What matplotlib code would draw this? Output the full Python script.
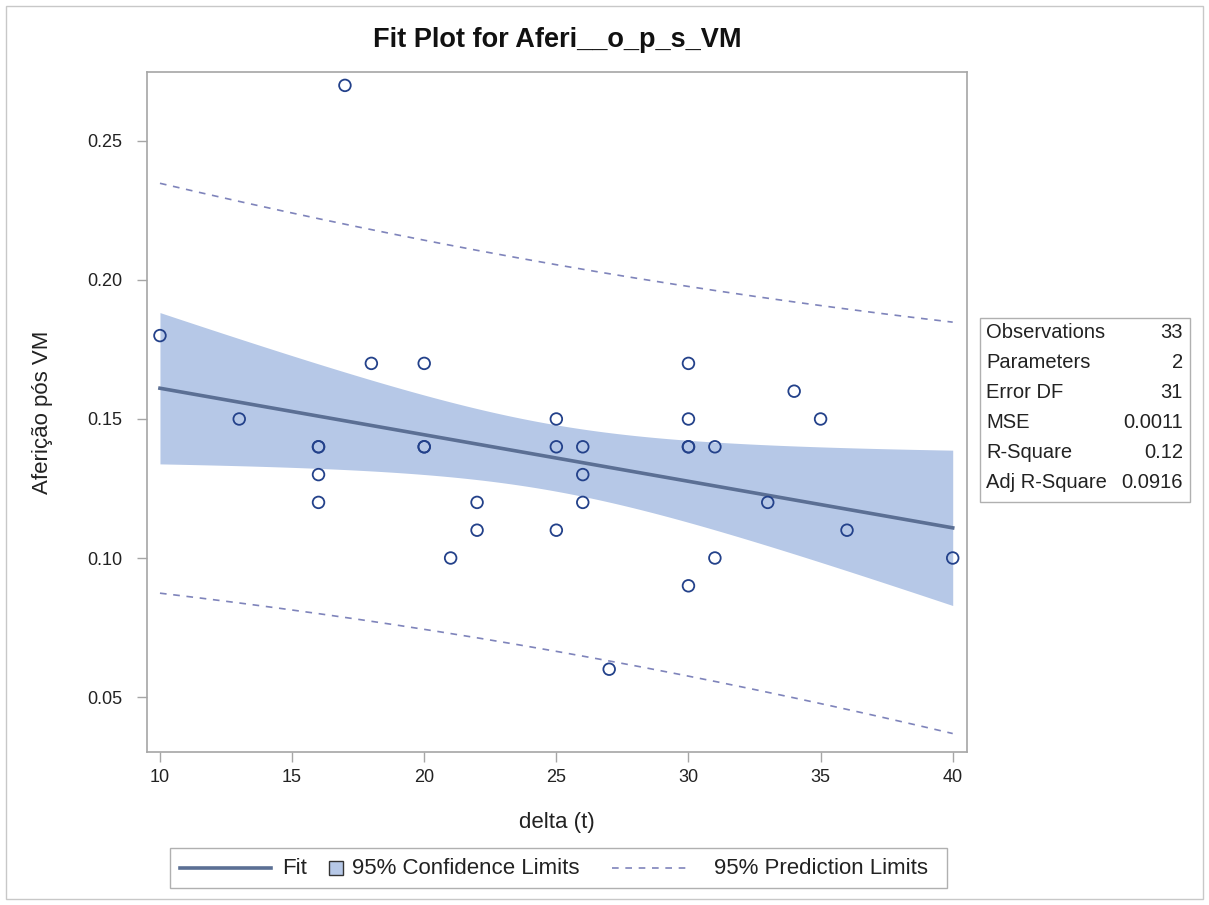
import numpy as np
import matplotlib
matplotlib.use('Agg')
import matplotlib.pyplot as plt
from matplotlib.patches import Rectangle
from matplotlib.lines import Line2D

plt.rcParams['font.family'] = ['Liberation Sans', 'DejaVu Sans']

# dados
delta_t = [10, 13, 16, 16, 16, 16, 17, 18, 20, 20, 20, 21, 22, 22, 25, 25, 25,
           26, 26, 26, 27, 30, 30, 30, 30, 30, 31, 31, 33, 34, 35, 36, 40]
afericao = [0.18, 0.15, 0.14, 0.14, 0.13, 0.12, 0.27, 0.17, 0.17, 0.14, 0.14, 0.10,
            0.12, 0.11, 0.15, 0.14, 0.11, 0.14, 0.13, 0.12, 0.06, 0.17, 0.15,
            0.14, 0.14, 0.09, 0.14, 0.10, 0.12, 0.16, 0.15, 0.11, 0.10]

stat_names = ['Observations', 'Parameters', 'Error DF', 'MSE', 'R-Square', 'Adj R-Square']
stat_values = ['33', '2', '31', '0.0011', '0.12', '0.0916']

legend_labels = ['Fit', '95% Confidence Limits', '95% Prediction Limits']

x = np.array(delta_t, dtype=float)
y = np.array(afericao, dtype=float)
n = len(x)

# regressão linear simples
b1, b0 = np.polyfit(x, y, 1)
resid = y - (b0 + b1 * x)
mse = np.sum(resid ** 2) / (n - 2)
sxx = np.sum((x - x.mean()) ** 2)
t_crit = 2.0395  # t(0.975, 31)

xg = np.linspace(x.min(), x.max(), 200)
yg = b0 + b1 * xg
se_mean = np.sqrt(mse * (1 / n + (xg - x.mean()) ** 2 / sxx))
se_pred = np.sqrt(mse * (1 + 1 / n + (xg - x.mean()) ** 2 / sxx))

W, H = 1209, 905
def fx(px):
    return px / W
def fy(py):
    return 1 - py / H

fig = plt.figure(figsize=(12.09, 9.05), dpi=100)
ax = fig.add_axes([0.1216, 0.169, 0.678, 0.7514])

band_col = '#b6c8e7'
fit_col = '#5b6f94'
pi_col = '#7f84bb'
pt_col = '#23418a'
txt_col = '#222222'

ax.fill_between(xg, yg - t_crit * se_mean, yg + t_crit * se_mean, color=band_col, lw=0, zorder=1)
ax.plot(xg, yg, color=fit_col, lw=2.6, zorder=2)
ax.plot(xg, yg - t_crit * se_pred, color=pi_col, lw=1.2, ls=(0, (4, 4)), zorder=2)
ax.plot(xg, yg + t_crit * se_pred, color=pi_col, lw=1.2, ls=(0, (4, 4)), zorder=2)
ax.scatter(x, y, s=70, facecolors='none', edgecolors=pt_col, linewidths=1.3, zorder=3)

ax.set_xlim(9.51, 40.53)
ax.set_ylim(0.0302, 0.2748)
ax.set_xticks([10, 15, 20, 25, 30, 35, 40])
ax.set_yticks([0.05, 0.10, 0.15, 0.20, 0.25])
ax.set_yticklabels(['0.05', '0.10', '0.15', '0.20', '0.25'])
for s in ax.spines.values():
    s.set_color('#a6a6a6')
    s.set_linewidth(1.2)
ax.tick_params(direction='out', length=7, width=1, color='#a6a6a6',
               labelsize=13, labelcolor=txt_col, pad=5)
ax.tick_params(axis='y', pad=11)
ax.set_xlabel('delta (t)', fontsize=16, color=txt_col, va='center')
ax.xaxis.set_label_coords(0.5, (752 - 822) / 680)
ax.set_ylabel('Aferição pós VM', fontsize=16, color=txt_col, va='center')
ax.yaxis.set_label_coords((42 - 147) / 820, 0.5)
fig.text(fx(557), fy(40), 'Fit Plot for Aferi__o_p_s_VM', fontsize=19.5, fontweight='bold',
         ha='center', va='center', color='#111111')

# tabela de estatísticas
fig.patches.append(Rectangle((fx(980), fy(502)), fx(1190) - fx(980), fy(318) - fy(502),
                             transform=fig.transFigure, fill=False, ec='#b0b0b0', lw=1))
for i, (nm, val) in enumerate(zip(stat_names, stat_values)):
    yy = 332 + i * 30
    fig.text(fx(986), fy(yy), nm, fontsize=14.5, va='center', ha='left', color=txt_col)
    fig.text(fx(1183), fy(yy), val, fontsize=14.5, va='center', ha='right', color=txt_col)

# legenda (desenhada à mão)
ly = 868
fig.patches.append(Rectangle((fx(170), fy(888)), fx(947) - fx(170), fy(848) - fy(888),
                             transform=fig.transFigure, fill=False, ec='#b0b0b0', lw=1))
fig.lines.append(Line2D([fx(180), fx(271)], [fy(ly), fy(ly)], transform=fig.transFigure,
                        color=fit_col, lw=2.6))
fig.text(fx(282), fy(ly), legend_labels[0], fontsize=16, va='center', ha='left', color=txt_col)
fig.patches.append(Rectangle((fx(329), fy(ly + 7)), fx(343) - fx(329), fy(ly - 7) - fy(ly + 7),
                             transform=fig.transFigure, fc=band_col, ec='#333333', lw=1))
fig.text(fx(352), fy(ly), legend_labels[1], fontsize=16, va='center', ha='left', color=txt_col)
fig.lines.append(Line2D([fx(612), fx(688)], [fy(ly), fy(ly)], transform=fig.transFigure,
                        color=pi_col, lw=1.2, ls=(0, (4, 4))))
fig.text(fx(714), fy(ly), legend_labels[2], fontsize=16, va='center', ha='left', color=txt_col)

# borda externa
fig.patches.append(Rectangle((fx(6), fy(899)), fx(1203) - fx(6), fy(6) - fy(899),
                             transform=fig.transFigure, fill=False, ec='#c8c8c8', lw=1))

fig.savefig('out.png', dpi=100)
